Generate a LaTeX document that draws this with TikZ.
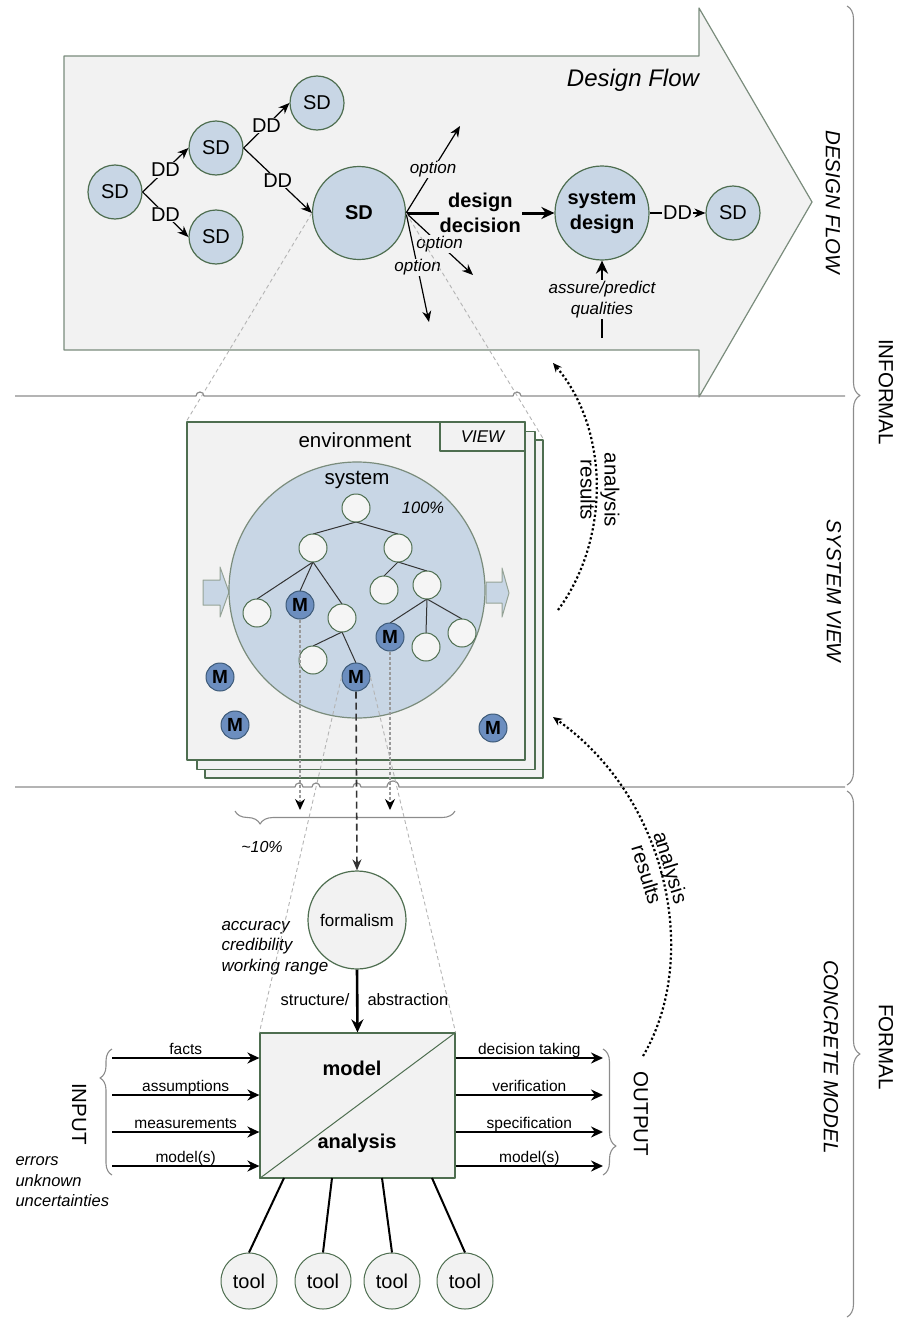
\documentclass[tikz,border=0pt]{standalone}
\usepackage{fontspec}
\setmainfont{Liberation Sans}
\usetikzlibrary{arrows.meta,decorations.pathreplacing,calc}

\definecolor{panel}{HTML}{F2F2F2}
\definecolor{shapeline}{HTML}{4E6E50}
\definecolor{arrowline}{HTML}{7A8C7C}
\definecolor{sdfill}{HTML}{C8D6E5}
\definecolor{nodefill}{HTML}{F5F5F5}
\definecolor{mfill}{HTML}{6C8EBF}
\definecolor{mline}{HTML}{3D5A78}
\definecolor{sepgray}{HTML}{8C8C8C}
\definecolor{zoomgray}{HTML}{B4B4B4}
\definecolor{edgegray}{HTML}{333333}

\newcommand{\myfs}[2]{\fontsize{#1}{#2}\selectfont}

\begin{document}
\begin{tikzpicture}[x=1pt,y=-1pt,line join=round,
  sd/.style={circle,draw=shapeline,fill=sdfill,line width=1.2pt,inner sep=0pt,minimum size=54pt,font=\myfs{20}{24}},
  tnode/.style={circle,draw=shapeline,fill=nodefill,line width=1pt,inner sep=0pt,minimum size=28pt},
  mnode/.style={circle,draw=mline,fill=mfill,line width=1pt,inner sep=0pt,minimum size=28pt,font=\myfs{19}{20}\bfseries},
  tedge/.style={draw=edgegray,line width=1pt},
  flowarrow/.style={draw=black,line width=1.2pt,-{Stealth[length=11pt,width=9pt]}},
  bigarrow/.style={draw=black,line width=3pt,-{Stealth[length=13pt,width=12pt]}},
  ioarrow/.style={draw=black,line width=2.6pt,-{Stealth[length=12pt,width=11pt]}},
  lbl/.style={fill=panel,inner sep=1pt,font=\myfs{20}{24}},
  optlbl/.style={fill=panel,inner sep=1pt,font=\myfs{17}{20}\itshape},
  iolbl/.style={midway,anchor=base,yshift=4pt,inner sep=0pt,font=\myfs{15.5}{18}},
  viewbox/.style={draw=shapeline,fill=panel,line width=1.2pt,minimum width=338pt,minimum height=338pt,inner sep=0pt},
  sepline/.style={draw=sepgray,line width=1.2pt},
  bracestyle/.style={draw=sepgray,line width=1.1pt,decorate},
  zoomline/.style={draw=zoomgray,line width=0.9pt,dash pattern=on 4pt off 3pt},
  mlink/.style={draw=gray!80,line width=1.1pt,dash pattern=on 3pt off 2pt,-{Stealth[length=11pt,width=10pt,color=black]}},
  formlink/.style={draw=edgegray,line width=1.6pt,dash pattern=on 7pt off 4pt,-{Stealth[length=11pt,width=9pt]}},
  resultarc/.style={draw=black,line width=2.2pt,dash pattern=on 2.2pt off 2.4pt,-{Stealth[length=9pt,width=8pt]}},
  sidelbl/.style={rotate=-90,font=\myfs{20.5}{24}\itshape},
  grouplbl/.style={rotate=-90,font=\myfs{20.5}{24}},
  toolnode/.style={circle,draw=shapeline,fill=panel,line width=1pt,inner sep=0pt,minimum size=56pt,font=\myfs{20}{24}}
]
\useasboundingbox (0,0) rectangle (899,1322);

% ---------- design flow band ----------
\path[draw=arrowline,fill=panel,line width=1.2pt]
  (64,56) -- (699,56) -- (699,8) -- (812,202) -- (699,397) -- (699,350) -- (64,350) -- cycle;
\node[font=\myfs{24}{28}\itshape] (dftitle) at (633,80) {Design Flow};

% section separators with line jumps
\draw[sepline] (15,396) -- (196,396) arc[start angle=180,end angle=0,radius=4pt]
  -- (513,396) arc[start angle=180,end angle=0,radius=4pt] -- (845,396);
\draw[sepline] (15,787) -- (295,787) arc[start angle=180,end angle=0,radius=4pt]
  -- (312,787) arc[start angle=180,end angle=0,radius=4pt]
  -- (353,787) arc[start angle=180,end angle=0,radius=4pt]
  -- (387,787) arc[start angle=180,end angle=0,radius=6pt] -- (845,787);

% right-hand braces and labels
\draw[bracestyle,decoration={brace,amplitude=13pt}] (847,6) -- (847,785);
\draw[bracestyle,decoration={brace,amplitude=13pt}] (847,791) -- (847,1317);
\node[grouplbl] (informal) at (886,392) {INFORMAL};
\node[grouplbl] (formal) at (886,1047) {FORMAL};
\node[sidelbl] (lbldf) at (833,202) {DESIGN FLOW};
\node[sidelbl] (lblsv) at (834,591) {SYSTEM VIEW};
\node[sidelbl] (lblcm) at (831,1057) {CONCRETE MODEL};

% design decisions
\node[sd] (sd1) at (115,192) {SD};
\node[sd] (sd2) at (216,148) {SD};
\node[sd] (sd3) at (317,103) {SD};
\node[sd] (sd4) at (216,237) {SD};
\node[sd,minimum size=93pt,font=\myfs{20}{24}\bfseries] (bigsd) at (359,213) {SD};
\node[sd,minimum size=94pt,font=\myfs{20}{25}\bfseries,align=center] (sysdes) at (602,213) {system\\design};
\node[sd] (sdout) at (733,213) {SD};

\draw[flowarrow] (sd1.east) -- node[lbl]{DD} (sd2.west);
\draw[flowarrow] (sd1.east) -- node[lbl]{DD} (sd4.west);
\draw[flowarrow] (sd2.east) -- node[lbl]{DD} (sd3.west);
\draw[flowarrow] (sd2.east) -- node[lbl]{DD} (bigsd.west);
\draw[flowarrow] (sysdes.east) -- node[lbl]{DD} (sdout.west);

\coordinate (opt1) at (460,126);
\coordinate (opt2) at (473,275);
\coordinate (opt3) at (429,322);
\draw[flowarrow] (bigsd.east) -- node[optlbl]{option} (opt1);
\draw[flowarrow] (bigsd.east) -- node[optlbl]{option} (opt2);
\draw[flowarrow] (bigsd.east) -- node[optlbl]{option} (opt3);
\draw[bigarrow] (bigsd.east) -- node[fill=panel,inner sep=1pt,align=center,font=\myfs{20}{25}\bfseries]{design\\decision} (sysdes.west);

\coordinate (aq) at (602,338);
\draw[bigarrow,line width=2.6pt] (aq) -- node[fill=panel,inner sep=1pt,align=center,font=\myfs{17}{21}\itshape]{assure/predict\\qualities} (sysdes.south);

% ---------- system view ----------
\node[viewbox] (view3) at (374,609) {};
\node[viewbox] (view2) at (366,600.5) {};
\node[viewbox] (view1) at (356,591) {};
\node[draw=shapeline,fill=panel,line width=1.2pt,anchor=north east,minimum width=85pt,minimum height=29pt,inner sep=0pt,font=\myfs{17}{20}\itshape] (viewtab) at (view1.north east) {VIEW};
\node[font=\myfs{20.5}{24}] (envlbl) at (355,440) {environment};

\draw[zoomline] (bigsd.west) -- (view1.north west);
\draw[zoomline] (bigsd.east) -- (view3.north east);

% flow into and out of the system
\path[draw=arrowline!80,fill=sdfill,line width=1pt]
  (203,580) -- (220,580) -- (220,567) -- (229,592) -- (220,617) -- (220,605) -- (203,605) -- cycle;
\node[circle,draw=arrowline,fill=sdfill,line width=1.2pt,minimum size=256pt,inner sep=0pt] (sys) at (357,590) {};
\path[draw=arrowline!80,fill=sdfill,line width=1pt]
  (486,582) -- (502,582) -- (502,568) -- (509,593) -- (502,617) -- (502,603) -- (486,603) -- cycle;
\node[font=\myfs{20.5}{24}] (syslbl) at (357,480) {system};
\node[font=\myfs{16.5}{20}\itshape] (pct) at (423,508) {100\%};

% component tree: edges first, nodes on top
\coordinate (n0) at (356,508);
\coordinate (na) at (313,548);
\coordinate (nb) at (398,548);
\coordinate (c1) at (257,613);
\coordinate (m1c) at (300,605);
\coordinate (c2) at (342,618);
\coordinate (c3) at (384,590);
\coordinate (c4) at (427,585);
\coordinate (c5) at (313,660);
\coordinate (m3c) at (356,677);
\coordinate (m2c) at (390,637);
\coordinate (c6) at (426,647);
\coordinate (c7) at (462,633);
\foreach \p/\c in {n0/na,n0/nb,na/c1,na/m1c,na/c2,nb/c3,nb/c4,c2/c5,c2/m3c,c4/m2c,c4/c6,c4/c7}
  \draw[tedge] ($(\p)+(0,14)$) -- ($(\c)+(0,-14)$);
\foreach \n in {n0,na,nb,c1,c2,c3,c4,c5,c6,c7}
  \node[tnode] (t\n) at (\n) {};
\node[mnode] (m1) at (m1c) {M};
\node[mnode] (m2) at (m2c) {M};
\node[mnode] (m3) at (m3c) {M};
\node[mnode] (m4) at (220,677) {M};
\node[mnode] (m5) at (235,725) {M};
\node[mnode] (m6) at (493,728) {M};

% selection of modelled parts
\coordinate (m1end) at (300,810);
\coordinate (m2end) at (390,810);
\draw[mlink] (m1.south) -- (m1end);
\draw[mlink] (m2.south) -- (m2end);
\draw[bracestyle,decoration={brace,amplitude=13pt,aspect=0.886}] (455,811) -- (235,811);
\node[font=\myfs{16}{20}\itshape] (tenpct) at (262,847) {\textasciitilde10\%};

% ---------- concrete model ----------
\node[circle,draw=shapeline,fill=panel,line width=1.2pt,minimum size=98pt,inner sep=0pt,font=\myfs{17}{20}] (formal) at (357,920) {formalism};
\draw[formlink] (m3.south) -- (formal.north);
\node[anchor=west,align=left,font=\myfs{17}{20.5}\itshape] (quality) at (218,948) {accuracy\\credibility\\working range};

\node[draw=shapeline,fill=panel,line width=1.2pt,minimum width=195pt,minimum height=145pt,inner sep=0pt] (model) at (357.5,1105.5) {};
\draw[shapeline,line width=1pt] (model.south west) -- (model.north east);
\node[font=\myfs{20}{24}\bfseries] (modellbl) at (352,1068) {model};
\node[font=\myfs{20}{24}\bfseries] (analysislbl) at (357,1143) {analysis};

\draw[zoomline] (m3.west) -- (model.north west);
\draw[zoomline] (m3.east) -- (model.north east);

\draw[bigarrow,line width=2.6pt] (formal.south) -- (model.north);
\node[anchor=east,font=\myfs{16.5}{20}] (structlbl) at (353,1000) {structure/};
\node[anchor=west,font=\myfs{16.5}{20}] (abstrlbl) at (364,1000) {abstraction};

% inputs
\coordinate (in1) at (112,1058);
\coordinate (in2) at (112,1095);
\coordinate (in3) at (112,1132);
\coordinate (in4) at (112,1166);
\draw[ioarrow] (in1) -- node[iolbl]{facts} (in1 -| model.west);
\draw[ioarrow] (in2) -- node[iolbl]{assumptions} (in2 -| model.west);
\draw[ioarrow] (in3) -- node[iolbl]{measurements} (in3 -| model.west);
\draw[ioarrow] (in4) -- node[iolbl]{model(s)} (in4 -| model.west);
\draw[bracestyle,decoration={brace,amplitude=12pt,aspect=0.77}] (112,1175) -- (112,1049);
\node[grouplbl] (inputlbl) at (79,1114) {INPUT};
\node[anchor=west,align=left,font=\myfs{16.5}{20.5}\itshape] (errlbl) at (12,1182) {errors\\unknown\\uncertainties};

% outputs
\coordinate (out1) at (603,1058);
\coordinate (out2) at (603,1095);
\coordinate (out3) at (603,1132);
\coordinate (out4) at (603,1166);
\draw[ioarrow] (out1 -| model.east) -- node[iolbl]{decision taking} (out1);
\draw[ioarrow] (out2 -| model.east) -- node[iolbl]{verification} (out2);
\draw[ioarrow] (out3 -| model.east) -- node[iolbl]{specification} (out3);
\draw[ioarrow] (out4 -| model.east) -- node[iolbl]{model(s)} (out4);
\draw[bracestyle,decoration={brace,amplitude=13pt,aspect=0.77}] (603,1049) -- (603,1175);
\node[grouplbl] (outputlbl) at (641,1114) {OUTPUT};

% tools
\node[toolnode] (tool1) at (249,1281) {tool};
\node[toolnode] (tool2) at (323,1281) {tool};
\node[toolnode] (tool3) at (392,1281) {tool};
\node[toolnode] (tool4) at (465,1281) {tool};
\coordinate (tp1) at (284,1178);
\coordinate (tp2) at (332,1178);
\coordinate (tp3) at (382,1178);
\coordinate (tp4) at (432,1178);
\foreach \i in {1,2,3,4}
  \draw[black,line width=2pt] (tp\i) -- (tool\i.north);

% analysis results fed back upwards
\coordinate (ar1s) at (558,610);
\coordinate (ar1e) at (553,363);
\draw[resultarc] (ar1s) .. controls (610,540) and (610,430) .. (ar1e);
\node[rotate=-90,align=center,font=\myfs{20.5}{24}] (ar1lbl) at (600,490) {analysis\\results};
\coordinate (ar2s) at (643,1056);
\coordinate (ar2e) at (553,717);
\draw[resultarc] (ar2s) .. controls (700,960) and (670,800) .. (ar2e);
\node[rotate=-73,align=center,font=\myfs{20.5}{25}] (ar2lbl) at (659,871) {analysis\\results};

\end{tikzpicture}
\end{document}
